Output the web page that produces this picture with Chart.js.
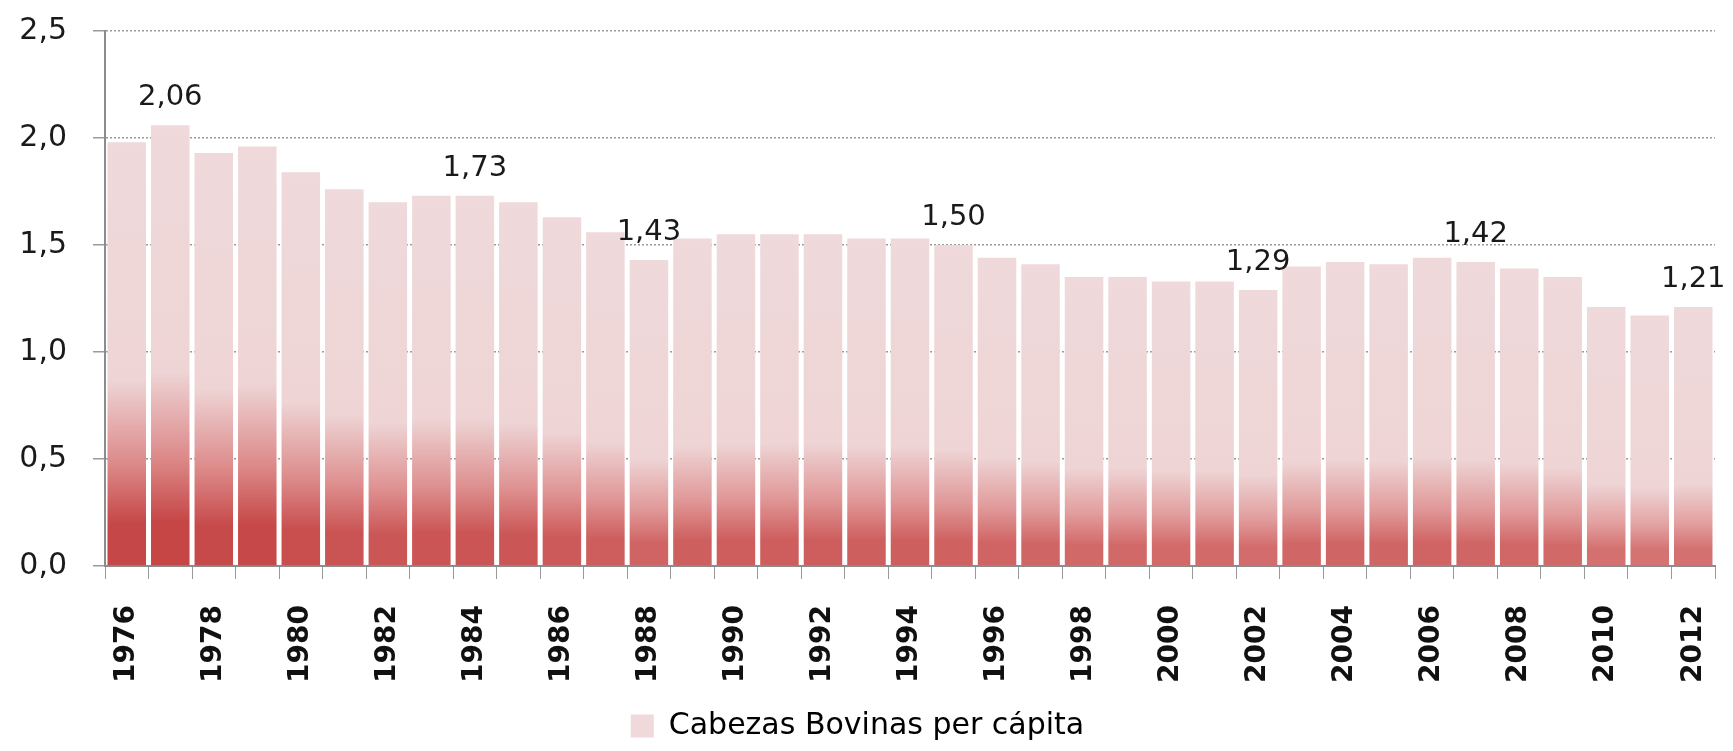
<!DOCTYPE html>
<html lang="es">
<head>
<meta charset="UTF-8">
<title>Cabezas Bovinas per cápita</title>
<script src="https://cdn.jsdelivr.net/npm/chart.js@4.4.1/dist/chart.umd.min.js"></script>
<style>
    html, body { margin: 0; padding: 0; background: #ffffff; }
    .wrap { width: 1733px; height: 751px; position: relative; }
</style>
</head>
<body>
<div class="wrap"><canvas id="cattleChart"></canvas></div>
<script>
    // --- DATA ---
    const years = ['1976','1977','1978','1979','1980','1981','1982','1983','1984','1985',
                   '1986','1987','1988','1989','1990','1991','1992','1993','1994','1995',
                   '1996','1997','1998','1999','2000','2001','2002','2003','2004','2005',
                   '2006','2007','2008','2009','2010','2011','2012'];
    const headsPerCapita = [1.98, 2.06, 1.93, 1.96, 1.84, 1.76, 1.70, 1.73, 1.73, 1.70,
                            1.63, 1.56, 1.43, 1.53, 1.55, 1.55, 1.55, 1.53, 1.53, 1.50,
                            1.44, 1.41, 1.35, 1.35, 1.33, 1.33, 1.29, 1.40, 1.42, 1.41,
                            1.44, 1.42, 1.39, 1.35, 1.21, 1.17, 1.21];
    // years that carry a value label above the bar
    const labelledYears = ['1977', '1984', '1988', '1995', '2002', '2007', '2012'];
    const yTicks = [0, 0.5, 1, 1.5, 2, 2.5];

    const PINK = '#efd9da';
    const FONT = '"DejaVu Sans", Verdana, sans-serif';
    const fmt = v => v.toFixed(2).replace('.', ',');

    // bar fill: red at the base fading to pale pink; taller bars carry more red
    function barFill(context) {
        const chart = context.chart;
        if (!chart.chartArea || context.type !== 'data') return PINK;
        const y = chart.scales.y;
        const v = context.raw;
        const t = Math.max(0, Math.min(1, (v - 1.1) / 0.9));
        const base = y.getPixelForValue(0);
        const top = y.getPixelForValue(v);
        const mix = (a, b) => Math.round(a + (b - a) * t);
        const bottom = `rgb(${mix(214, 198)},${mix(118, 70)},${mix(118, 70)})`;
        const mid = `rgb(${mix(228, 220)},${mix(165, 135)},${mix(165, 135)})`;
        const g = chart.ctx.createLinearGradient(0, base, 0, top);
        g.addColorStop(0, bottom);
        g.addColorStop(0.06 + 0.04 * t, bottom);
        g.addColorStop(0.16 + 0.08 * t, mid);
        g.addColorStop(0.30 + 0.14 * t, 'rgb(238,212,213)');
        g.addColorStop(1, PINK);
        return g;
    }

    // value labels over selected bars
    const valueLabels = {
        id: 'valueLabels',
        afterDatasetsDraw(chart) {
            const ctx = chart.ctx;
            const meta = chart.getDatasetMeta(0);
            ctx.save();
            ctx.font = '29px ' + FONT;
            ctx.fillStyle = '#1a1a1a';
            ctx.textAlign = 'center';
            ctx.textBaseline = 'alphabetic';
            years.forEach((yr, i) => {
                if (!labelledYears.includes(yr)) return;
                const bar = meta.data[i];
                ctx.fillText(fmt(headsPerCapita[i]), bar.x, bar.y - 20);
            });
            ctx.restore();
        }
    };

    new Chart(document.getElementById('cattleChart'), {
        type: 'bar',
        data: {
            labels: years,
            datasets: [{
                label: 'Cabezas Bovinas per cápita',
                data: headsPerCapita,
                backgroundColor: barFill,
                borderWidth: 0,
                barPercentage: 0.885,
                categoryPercentage: 1.0
            }]
        },
        options: {
            responsive: true,
            maintainAspectRatio: false,
            animation: false,
            layout: { padding: { top: 31, right: 18, left: 0, bottom: 0 } },
            plugins: {
                tooltip: { enabled: false },
                legend: {
                    position: 'bottom',
                    labels: {
                        font: { size: 30, family: FONT, lineHeight: 1.0 },
                        color: '#1a1a1a',
                        boxWidth: 23,
                        boxHeight: 23,
                        padding: 0,
                        generateLabels: chart => [{
                            text: chart.data.datasets[0].label,
                            fillStyle: PINK,
                            strokeStyle: PINK,
                            lineWidth: 0,
                            datasetIndex: 0
                        }]
                    }
                }
            },
            scales: {
                x: {
                    grid: {
                        offset: true,
                        drawOnChartArea: false,
                        drawTicks: true,
                        tickLength: 13,
                        color: '#999999'
                    },
                    border: { color: '#8c8c8c', width: 2 },
                    ticks: {
                        autoSkip: false,
                        minRotation: 90,
                        maxRotation: 90,
                        padding: 26,
                        color: '#111111',
                        font: { size: 28, family: FONT, weight: 'bold' },
                        callback: function (value, index) {
                            return index % 2 === 0 ? this.getLabelForValue(value) : '';
                        }
                    },
                    afterFit: scale => {
                        scale.height = 145;
                        scale.paddingLeft = 0;
                        scale.paddingRight = 0;
                    }
                },
                y: {
                    min: 0,
                    max: 2.5,
                    afterBuildTicks: scale => { scale.ticks = yTicks.map(v => ({ value: v })); },
                    grid: {
                        color: '#9a9a9a',
                        lineWidth: 1.5,
                        tickLength: 12,
                        drawTicks: true
                    },
                    border: { color: '#8c8c8c', width: 2, dash: [2, 2] },
                    ticks: {
                        color: '#1a1a1a',
                        padding: 26,
                        font: { size: 30, family: FONT },
                        callback: v => v.toFixed(1).replace('.', ',')
                    },
                    afterFit: scale => {
                        scale.width = 105;
                        scale.paddingTop = 0;
                        scale.paddingBottom = 0;
                    }
                }
            }
        },
        plugins: [valueLabels]
    });
</script>
</body>
</html>
